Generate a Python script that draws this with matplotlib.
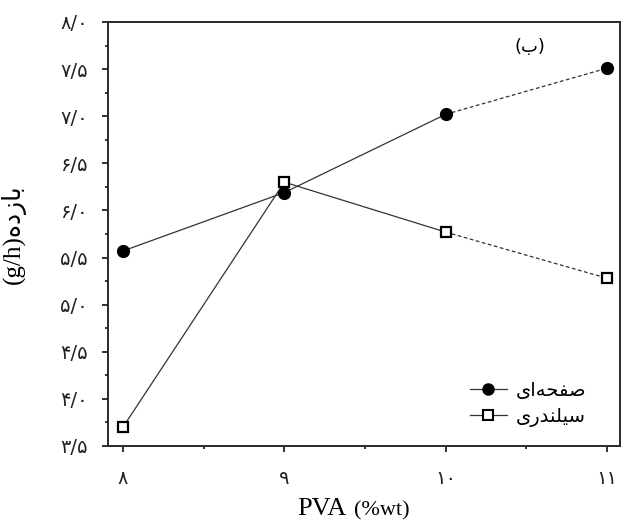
import matplotlib
matplotlib.use("Agg")
import matplotlib.pyplot as plt
from matplotlib.lines import Line2D
from matplotlib.ticker import MultipleLocator, FixedLocator

# PVA concentration (wt%) and yield (g/h) for the two electrode types
pva = [8, 9, 10, 11]
yield_plate = [5.57, 6.19, 7.02, 7.51]      # صفحه‌ای
yield_cylinder = [3.70, 6.30, 5.77, 5.28]   # سیلندری

x_tick_labels = ["۸", "۹", "۱۰", "۱۱"]
y_ticks = [3.5, 4.0, 4.5, 5.0, 5.5, 6.0, 6.5, 7.0, 7.5, 8.0]
y_tick_labels = ["۳/۵", "۴/۰", "۴/۵", "۵/۰", "۵/۵", "۶/۰", "۶/۵", "۷/۰", "۷/۵", "۸/۰"]

# Persian strings written with Arabic presentation forms in visual order
label_plate = "\uFEEF\uFE8D\uFEEA\uFEA4\uFED4\uFEBB"                 # صفحه‌ای
label_cylinder = "\uFEEF\uFEAD\uFEAA\uFEE8\uFEE0\uFEF4\uFEB3"        # سیلندری
y_title = "(g/h)" + "\uFEE9\uFEA9\uFEAF\uFE8E\uFE91"                 # بازده (g/h)
panel = "(\uFE8F)"                                                    # (ب)

plt.rcParams["font.family"] = ["DejaVu Sans"]
mixed = ["Liberation Serif", "DejaVu Sans"]

fig = plt.figure(figsize=(6.22, 5.21), dpi=100)
ax = fig.add_axes([0.1736, 0.1440, 0.8232, 0.8138])

line_col = "#333333"
# solid segments up to 10 wt%, dashed beyond
ax.plot(pva[:3], yield_plate[:3], color=line_col, lw=0.9, zorder=2)
ax.plot(pva[2:], yield_plate[2:], color=line_col, lw=0.9, ls=(0, (3, 2)), zorder=2)
ax.plot(pva[:3], yield_cylinder[:3], color=line_col, lw=0.9, zorder=2)
ax.plot(pva[2:], yield_cylinder[2:], color=line_col, lw=0.9, ls=(0, (3, 2)), zorder=2)

ax.plot(pva, yield_plate, ls="none", marker="o", ms=8.5, mfc="black", mec="black", zorder=3)
ax.plot(pva, yield_cylinder, ls="none", marker="s", ms=7.5, mfc="white", mec="black",
        mew=1.6, zorder=4)

ax.set_xlim(7.907, 11.08)
ax.set_ylim(3.5, 8.0)

ax.xaxis.set_major_locator(FixedLocator(pva))
ax.set_xticklabels(x_tick_labels)
ax.xaxis.set_minor_locator(FixedLocator([8.5, 9.5, 10.5]))
ax.yaxis.set_major_locator(FixedLocator(y_ticks))
ax.set_yticklabels(y_tick_labels)
ax.yaxis.set_minor_locator(MultipleLocator(0.25))

ax.tick_params(which="major", direction="out", length=4.5, width=1.3, colors="#222222",
               labelsize=14, top=False, right=False)
ax.tick_params(axis="y", which="major", pad=10)
ax.tick_params(axis="x", which="major", pad=12)
ax.tick_params(which="minor", direction="out", length=2.5, width=1.3, colors="#222222",
               top=False, right=False)

for s in ax.spines.values():
    s.set_linewidth(1.4)
    s.set_color("#2a2a2a")

# x-axis title: large "PVA" followed by smaller unit
fig.text(346 / 622, 6 / 521, "PVA", family="Liberation Serif", fontsize=19,
         ha="right", va="baseline")
fig.text(354 / 622, 6 / 521, "(%wt)", family="Liberation Serif", fontsize=16,
         ha="left", va="baseline")

ax.set_ylabel(y_title, fontsize=18, family=mixed)
ax.yaxis.set_label_coords(-0.16, 0.50)

ax.text(10.52, 7.73, panel, fontsize=13, ha="center", va="center")

handles = [
    Line2D([], [], color=line_col, lw=0.9, marker="o", ms=8, mfc="black", mec="black"),
    Line2D([], [], color=line_col, lw=0.9, marker="s", ms=7, mfc="white", mec="black", mew=1.5),
]
ax.legend(handles, [label_plate, label_cylinder], loc="upper left",
          bbox_to_anchor=(0.672, 0.195), frameon=False, fontsize=14,
          handlelength=1.9, handletextpad=0.5, labelspacing=0.35, numpoints=1)

fig.savefig("out.png", dpi=100)
